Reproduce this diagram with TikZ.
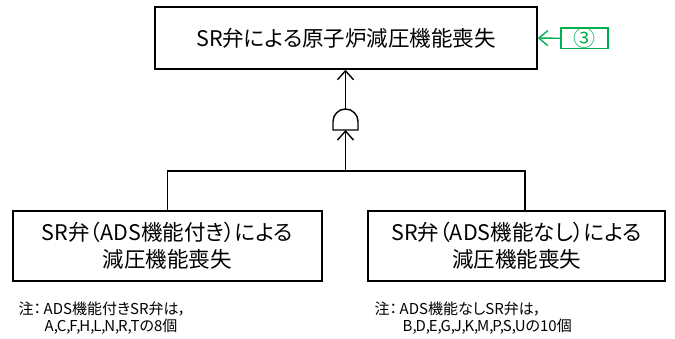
\documentclass[tikz,border=0pt]{standalone}
\usepackage{fontspec}
\setmainfont[RawFeature=+palt]{Noto Sans CJK JP}
\usetikzlibrary{arrows.meta,calc}
\definecolor{fgreen}{RGB}{0,176,80}
\newcommand{\tc}{,\kern-1.2pt}
\begin{document}
\begin{tikzpicture}[x=1pt,y=-1pt,
  line width=1.4pt,
  evbox/.style={draw,rectangle,inner sep=0pt,align=center},
  toptext/.style={font=\fontsize{21.5}{27}\selectfont},
  subtext/.style={font=\fontsize{21.5}{27}\selectfont},
  notetext/.style={font=\fontsize{15}{17}\selectfont,align=left,anchor=north west,inner sep=0pt},
  arr/.style={-{Straight Barb[length=9pt,width=16pt]}},
  garr/.style={-{Straight Barb[length=9pt,width=15pt]},draw=fgreen},
]
\useasboundingbox (0,0) rectangle (675,339);
% top event
\node[evbox,toptext,minimum width=382pt,minimum height=62pt] (top) at (346,38) {SR弁による原子炉減圧機能喪失};
% green reference
\node[draw=fgreen,rectangle,inner sep=0pt,minimum width=47pt,minimum height=20pt,text=fgreen,font=\fontsize{22}{22}\selectfont] (ref) at (584.5,38.3) {③};
\draw[garr] (ref.west) -- (top.east);
% AND gate
\coordinate (gbot) at (345.5,130);
\coordinate (gtop) at (345.5,109);
\draw (333,130) -- (333,121.5) arc[start angle=180,end angle=360,radius=12.5] -- (358,130) -- cycle;
\draw[arr] (gtop) -- (gtop |- top.south);
% lower boxes
\node[evbox,subtext,minimum width=309pt,minimum height=70pt] (lbox) at (167.5,246) {SR弁（ADS機能付き）による\\減圧機能喪失};
\node[evbox,subtext,minimum width=297pt,minimum height=70pt] (rbox) at (516.5,246) {SR弁（ADS機能なし）による\\減圧機能喪失};
% connectors
\coordinate (barL) at (lbox.north |- 0,171);
\coordinate (barR) at (525,171);
\coordinate (barM) at (gbot |- 0,171);
\draw (lbox.north) -- (barL) -- (barR) -- (barR |- rbox.north);
\draw[arr] (barM) -- (gbot);
% notes
\node[notetext] (lnote) at (18,301) {注：\,ADS機能付きSR弁は，\\\hspace*{26pt}A\tc C\tc F\tc H\tc L\tc N\tc R\tc Tの8個};
\node[notetext] (rnote) at (374,301) {注：\,ADS機能なしSR弁は，\\\hspace*{28pt}B\tc D\tc E\tc G\tc J\tc K\tc M\tc P\tc S\tc Uの10個};
\end{tikzpicture}
\end{document}
